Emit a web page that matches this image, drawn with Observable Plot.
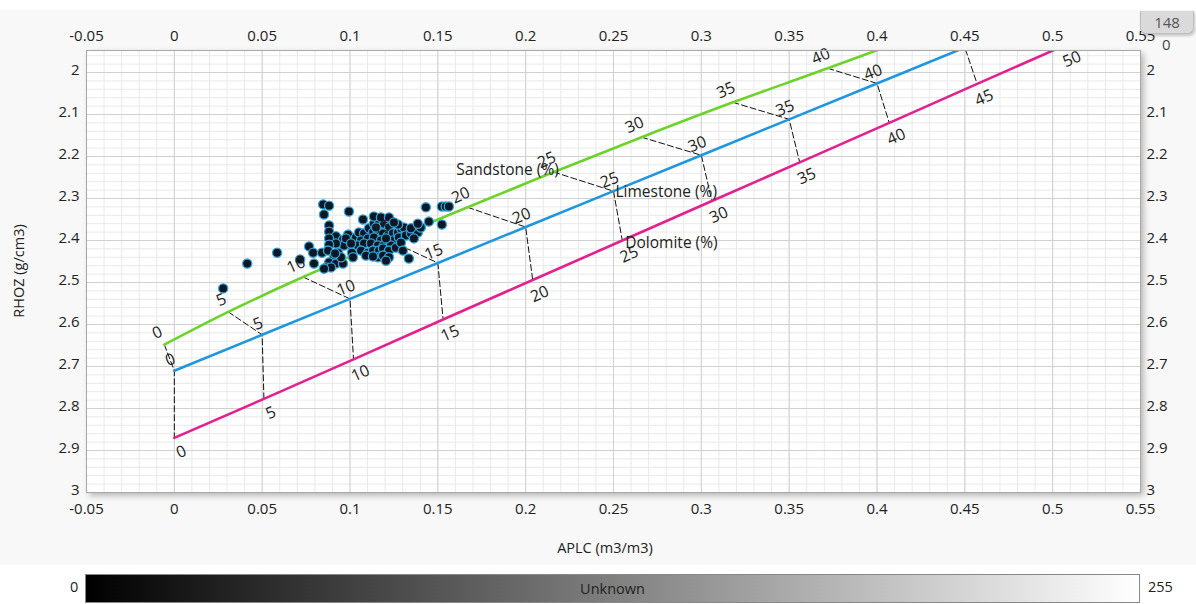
<!DOCTYPE html>
<html><head><meta charset="utf-8">
<script src="https://cdn.jsdelivr.net/npm/d3@7"></script>
<script src="https://cdn.jsdelivr.net/npm/@observablehq/plot@0.6"></script>
<style>
body{margin:0;background:#fff;font-family:"Open Sans",sans-serif;}
#wrap{position:relative;width:1196px;height:604px;overflow:hidden;}
#chart{position:absolute;left:0;top:10px;width:1196px;height:555px;background:#f8f8f8;}
#badge{position:absolute;left:1140px;top:11px;width:52px;height:22px;background:#dadada;border:1px solid #bdbdbd;border-top:none;border-radius:0 0 6px 6px;color:#555;font-size:15px;text-align:center;line-height:22px;box-shadow:1px 2px 3px rgba(0,0,0,0.2);}
#badge0{position:absolute;left:1162px;top:34px;color:#444;font-size:15px;}
#cbar{position:absolute;left:85px;top:574px;width:1053px;height:27px;background:linear-gradient(to right,#000,#fff);border:1px solid #888;}
#cbar span{position:absolute;left:0;right:0;top:0;text-align:center;line-height:27px;color:#222;font-size:14.5px;}
.cb{position:absolute;top:577px;font-size:14.5px;color:#222;}
</style></head><body>
<div id="wrap">
<div id="chart"></div>
<div id="badge">148</div>
<div id="badge0">0</div>
<div id="cbar"><span>Unknown</span></div>
<div class="cb" style="left:70px">0</div>
<div class="cb" style="left:1148px">255</div>
</div>
<script>
// Tick labels
const xTicks = [-0.05, 0, 0.05, 0.1, 0.15, 0.2, 0.25, 0.3, 0.35, 0.4, 0.45, 0.5, 0.55];
const yTicks = [2, 2.1, 2.2, 2.3, 2.4, 2.5, 2.6, 2.7, 2.8, 2.9, 3];

// Porosity (%) marks along the lithology lines
const porosity = [0, 5, 10, 15, 20, 25, 30, 35, 40, 45, 50];
const sandX = [-0.0057, 0.0307, 0.0733, 0.122, 0.167, 0.216, 0.266, 0.318, 0.372, 0.427];
const sandY = [2.648, 2.570, 2.487, 2.399, 2.321, 2.237, 2.154, 2.071, 1.990, 1.905];
const limeX = [0, 0.05, 0.1, 0.15, 0.2, 0.25, 0.3, 0.35, 0.4, 0.45];
const limeY = [2.71, 2.6245, 2.539, 2.4535, 2.368, 2.2825, 2.197, 2.1115, 2.026, 1.9405];
const doloX = [0, 0.051, 0.102, 0.153, 0.204, 0.255, 0.306, 0.356, 0.407, 0.457, 0.507];
const doloY = [2.87, 2.777, 2.683, 2.588, 2.494, 2.400, 2.306, 2.214, 2.120, 2.027, 1.935];

// Sample points: APLC (m3/m3), RHOZ (g/cm3)
const aplc = [0.0278,0.0415,0.0585,0.0716,0.0767,0.0790,0.0841,0.0795,0.0847,0.0881,0.0852,0.0994,0.1074,0.0881,0.0881,0.0920,0.0881,0.0960,0.0989,0.1000,0.0966,0.0920,0.0881,0.0875,0.0932,0.1011,0.0909,0.0881,0.0920,0.0864,0.0892,0.0960,0.0949,0.1034,0.1051,0.1080,0.1108,0.1136,0.1165,0.1193,0.1222,0.1131,0.1159,0.1188,0.1216,0.1244,0.1273,0.1330,0.1063,0.1102,0.1136,0.1176,0.1216,0.1244,0.1045,0.1080,0.1119,0.1159,0.1193,0.1233,0.1063,0.1102,0.1131,0.1165,0.1188,0.1222,0.1091,0.1159,0.1188,0.1222,0.1335,0.1290,0.1307,0.1278,0.1318,0.1347,0.1386,0.1403,0.1347,0.1386,0.1449,0.1523,0.1432,0.1523,0.1545,0.1563,0.1136,0.1176,0.1222,0.1273,0.1017,0.0977,0.1006,0.0915,0.0852,0.1250,0.1148,0.1205,0.1261,0.1290,0.1364,0.1131,0.1205,0.1301];
const rhoz = [2.514,2.455,2.429,2.445,2.414,2.429,2.429,2.455,2.314,2.317,2.338,2.331,2.350,2.364,2.379,2.390,2.395,2.398,2.386,2.410,2.412,2.407,2.410,2.424,2.429,2.429,2.440,2.452,2.455,2.464,2.464,2.455,2.440,2.393,2.381,2.383,2.371,2.360,2.357,2.360,2.369,2.381,2.376,2.383,2.388,2.383,2.381,2.383,2.400,2.395,2.393,2.400,2.400,2.400,2.412,2.407,2.407,2.412,2.412,2.412,2.424,2.429,2.424,2.424,2.419,2.424,2.436,2.440,2.436,2.440,2.443,2.371,2.369,2.393,2.388,2.383,2.381,2.369,2.371,2.360,2.355,2.362,2.321,2.319,2.319,2.319,2.343,2.345,2.345,2.362,2.440,2.395,2.407,2.431,2.467,2.357,2.369,2.395,2.417,2.405,2.395,2.438,2.448,2.424];

const rows = (xs, ys) => xs.map((x, i) => ({p: porosity[i], x, y: ys[i]}));
const sand = rows(sandX, sandY), lime = rows(limeX, limeY), dolo = rows(doloX, doloY);
const dashes = [];
for (let i = 0; i < sand.length; i++) dashes.push(sand[i], lime[i], dolo[i]);
const pts = aplc.map((x, i) => ({x, y: rhoz[i]}));
const minorX = d3.range(-50, 551, 10).map(d => d / 1000);
const minorY = d3.range(1960, 3001, 20).map(d => d / 1000);

const fmt = d => String(d);
const FS = 15;
const chart = Plot.plot({
  width: 1196, height: 555,
  marginLeft: 86, marginRight: 56, marginTop: 40, marginBottom: 73,
  style: {fontFamily: "'Open Sans', sans-serif", fontSize: "15px", color: "#222", background: "transparent"},
  x: {domain: [-0.05, 0.55]},
  y: {domain: [1.9476, 3.0], reverse: true},
  marks: [
    Plot.frame({fill: "white", stroke: "none"}),
    Plot.ruleX(minorX, {stroke: "#e9e9e9", strokeWidth: 1}),
    Plot.ruleY(minorY, {stroke: "#e9e9e9", strokeWidth: 1}),
    Plot.ruleX(xTicks, {stroke: "#d0d0d0", strokeWidth: 1}),
    Plot.ruleY(yTicks, {stroke: "#d0d0d0", strokeWidth: 1}),
    Plot.axisX({anchor: "top", ticks: xTicks, tickSize: 0, tickPadding: 10, tickFormat: fmt, label: null, fontSize: FS}),
    Plot.axisX({anchor: "bottom", ticks: xTicks, tickSize: 0, tickPadding: 11, tickFormat: fmt, label: null, fontSize: FS}),
    Plot.axisY({anchor: "left", ticks: yTicks, tickSize: 0, tickPadding: 7, tickFormat: fmt, label: null, fontSize: FS, dy: -2}),
    Plot.axisY({anchor: "right", ticks: yTicks, tickSize: 0, tickPadding: 6, tickFormat: fmt, label: null, fontSize: FS, dy: -2}),
    Plot.line(dashes, {x: "x", y: "y", z: "p", stroke: "#111", strokeWidth: 1, strokeDasharray: "6,3", clip: true}),
    Plot.line(sand, {x: "x", y: "y", stroke: "#6bd32a", strokeWidth: 2.6, curve: "catmull-rom", clip: true}),
    Plot.line(lime, {x: "x", y: "y", stroke: "#1f97e0", strokeWidth: 2.6, clip: true}),
    Plot.line(dolo, {x: "x", y: "y", stroke: "#e3208e", strokeWidth: 2.6, clip: true}),
    Plot.dot(pts, {x: "x", y: "y", r: 4.6, fill: "#0b1722", stroke: "#35a4dc", strokeWidth: 1.3, clip: true}),
    Plot.text(sand.slice(0, 9), {x: "x", y: "y", text: d => String(d.p), dx: -7, dy: -12, rotate: -24, fontSize: 16, fill: "#222"}),
    Plot.text(lime.slice(0, 9), {x: "x", y: "y", text: d => String(d.p), dx: -4, dy: -11, rotate: -22, fontSize: 16, fill: "#222"}),
    Plot.text(dolo, {x: "x", y: "y", text: d => String(d.p), dx: 7, dy: 14, rotate: -24, fontSize: 16, fill: "#222"}),
    Plot.text([sand[5]], {x: "x", y: "y", text: () => "Sandstone (%)", textAnchor: "end", dx: 5, dy: -2, fontSize: 15.5, fill: "#222"}),
    Plot.text([lime[5]], {x: "x", y: "y", text: () => "Limestone (%)", textAnchor: "start", dx: 2, dy: 1, fontSize: 15.5, fill: "#222"}),
    Plot.text([dolo[5]], {x: "x", y: "y", text: () => "Dolomite (%)", textAnchor: "start", dx: 3, dy: 3, fontSize: 15.5, fill: "#222"}),
    Plot.frame({stroke: "#a8a8a8", strokeWidth: 1})
  ]
});
const frames = chart.querySelectorAll('[aria-label="frame"]');
if (frames.length) frames[0].style.filter = "drop-shadow(3px 3px 3px rgba(0,0,0,0.28))";
const svg = d3.select(chart);
svg.append("text").attr("x", 605).attr("y", 539).attr("text-anchor", "middle").attr("dominant-baseline", "middle")
  .attr("font-size", 14.5).attr("fill", "#222").text("APLC (m3/m3)");
svg.append("text").attr("transform", "translate(20,261) rotate(-90)").attr("text-anchor", "middle").attr("dominant-baseline", "middle")
  .attr("font-size", 14.5).attr("fill", "#222").text("RHOZ (g/cm3)");
document.getElementById("chart").appendChild(chart);
</script>
</body></html>
